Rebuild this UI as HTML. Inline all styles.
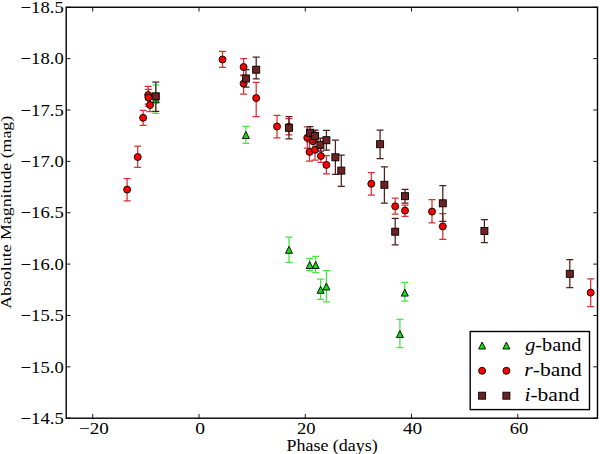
<!DOCTYPE html>
<html><head><meta charset="utf-8"><style>
html,body{margin:0;padding:0;background:#fff;}
body{width:600px;height:454px;overflow:hidden;}
svg{display:block;}
text{font-family:"Liberation Serif",serif;fill:#000;}
</style></head><body>
<svg width="600" height="454" viewBox="0 0 600 454">
<rect x="0" y="0" width="600" height="454" fill="#fff"/>
<g>
<path d="M155.8 84.9V113.3M152.3 84.9H159.3M152.3 113.3H159.3" stroke="#44e644" stroke-width="1.25" fill="none"/>
<path d="M245.9 126.3V143.4M242.4 126.3H249.4M242.4 143.4H249.4" stroke="#44e644" stroke-width="1.25" fill="none"/>
<path d="M289 237.2V262.4M285.5 237.2H292.5M285.5 262.4H292.5" stroke="#44e644" stroke-width="1.25" fill="none"/>
<path d="M309.7 258.4V270.5M306.2 258.4H313.2M306.2 270.5H313.2" stroke="#44e644" stroke-width="1.25" fill="none"/>
<path d="M315.7 256.4V272.6M312.2 256.4H319.2M312.2 272.6H319.2" stroke="#44e644" stroke-width="1.25" fill="none"/>
<path d="M320.6 279.1V299.4M317.1 279.1H324.1M317.1 299.4H324.1" stroke="#44e644" stroke-width="1.25" fill="none"/>
<path d="M326.4 270.5V301.9M322.9 270.5H329.9M322.9 301.9H329.9" stroke="#44e644" stroke-width="1.25" fill="none"/>
<path d="M404.8 282.4V301.1M401.3 282.4H408.3M401.3 301.1H408.3" stroke="#44e644" stroke-width="1.25" fill="none"/>
<path d="M399.9 319.3V347.7M396.4 319.3H403.4M396.4 347.7H403.4" stroke="#44e644" stroke-width="1.25" fill="none"/>
<path d="M155.8 95.9L152.3 102.9L159.3 102.9Z" fill="#10dd10" stroke="#000" stroke-width="0.9" stroke-linejoin="miter"/>
<path d="M245.9 131.5L242.4 138.5L249.4 138.5Z" fill="#10dd10" stroke="#000" stroke-width="0.9" stroke-linejoin="miter"/>
<path d="M289 246.3L285.5 253.3L292.5 253.3Z" fill="#10dd10" stroke="#000" stroke-width="0.9" stroke-linejoin="miter"/>
<path d="M309.7 261.5L306.2 268.5L313.2 268.5Z" fill="#10dd10" stroke="#000" stroke-width="0.9" stroke-linejoin="miter"/>
<path d="M315.7 261.5L312.2 268.5L319.2 268.5Z" fill="#10dd10" stroke="#000" stroke-width="0.9" stroke-linejoin="miter"/>
<path d="M320.6 286.3L317.1 293.3L324.1 293.3Z" fill="#10dd10" stroke="#000" stroke-width="0.9" stroke-linejoin="miter"/>
<path d="M326.4 283L322.9 290L329.9 290Z" fill="#10dd10" stroke="#000" stroke-width="0.9" stroke-linejoin="miter"/>
<path d="M404.8 289.1L401.3 296.1L408.3 296.1Z" fill="#10dd10" stroke="#000" stroke-width="0.9" stroke-linejoin="miter"/>
<path d="M399.9 330.5L396.4 337.5L403.4 337.5Z" fill="#10dd10" stroke="#000" stroke-width="0.9" stroke-linejoin="miter"/>
<path d="M127.1 178.5V200.8M123.6 178.5H130.6M123.6 200.8H130.6" stroke="#d83030" stroke-width="1.25" fill="none"/>
<path d="M137.7 146.2V167.4M134.2 146.2H141.2M134.2 167.4H141.2" stroke="#d83030" stroke-width="1.25" fill="none"/>
<path d="M143.1 110.3V125.4M139.6 110.3H146.6M139.6 125.4H146.6" stroke="#d83030" stroke-width="1.25" fill="none"/>
<path d="M148.2 86.4V104M144.7 86.4H151.7M144.7 104H151.7" stroke="#d83030" stroke-width="1.25" fill="none"/>
<path d="M148.4 89.3V106M144.9 89.3H151.9M144.9 106H151.9" stroke="#d83030" stroke-width="1.25" fill="none"/>
<path d="M150 98V111.5M146.5 98H153.5M146.5 111.5H153.5" stroke="#d83030" stroke-width="1.25" fill="none"/>
<path d="M222.5 51.4V67.4M219 51.4H226M219 67.4H226" stroke="#d83030" stroke-width="1.25" fill="none"/>
<path d="M243.6 58.5V75.5M240.1 58.5H247.1M240.1 75.5H247.1" stroke="#d83030" stroke-width="1.25" fill="none"/>
<path d="M243.6 75V94.2M240.1 75H247.1M240.1 94.2H247.1" stroke="#d83030" stroke-width="1.25" fill="none"/>
<path d="M256.2 82.4V116.6M252.7 82.4H259.7M252.7 116.6H259.7" stroke="#d83030" stroke-width="1.25" fill="none"/>
<path d="M277 115.4V137.8M273.5 115.4H280.5M273.5 137.8H280.5" stroke="#d83030" stroke-width="1.25" fill="none"/>
<path d="M288.9 118.6V134.8M285.4 118.6H292.4M285.4 134.8H292.4" stroke="#d83030" stroke-width="1.25" fill="none"/>
<path d="M307.3 126.9V148M303.8 126.9H310.8M303.8 148H310.8" stroke="#d83030" stroke-width="1.25" fill="none"/>
<path d="M313 131V151M309.5 131H316.5M309.5 151H316.5" stroke="#d83030" stroke-width="1.25" fill="none"/>
<path d="M309.5 142V161.2M306 142H313M306 161.2H313" stroke="#d83030" stroke-width="1.25" fill="none"/>
<path d="M315 140V160.1M311.5 140H318.5M311.5 160.1H318.5" stroke="#d83030" stroke-width="1.25" fill="none"/>
<path d="M320.9 148V162.4M317.4 148H324.4M317.4 162.4H324.4" stroke="#d83030" stroke-width="1.25" fill="none"/>
<path d="M326.4 155.6V173.9M322.9 155.6H329.9M322.9 173.9H329.9" stroke="#d83030" stroke-width="1.25" fill="none"/>
<path d="M371.3 172.5V195M367.8 172.5H374.8M367.8 195H374.8" stroke="#d83030" stroke-width="1.25" fill="none"/>
<path d="M395.2 198.2V214.2M391.7 198.2H398.7M391.7 214.2H398.7" stroke="#d83030" stroke-width="1.25" fill="none"/>
<path d="M405 205.1V216.4M401.5 205.1H408.5M401.5 216.4H408.5" stroke="#d83030" stroke-width="1.25" fill="none"/>
<path d="M432 199.7V222.9M428.5 199.7H435.5M428.5 222.9H435.5" stroke="#d83030" stroke-width="1.25" fill="none"/>
<path d="M442.8 213.7V239.4M439.3 213.7H446.3M439.3 239.4H446.3" stroke="#d83030" stroke-width="1.25" fill="none"/>
<path d="M590.7 278.9V306.6M587.2 278.9H594.2M587.2 306.6H594.2" stroke="#d83030" stroke-width="1.25" fill="none"/>
<circle cx="127.1" cy="189.6" r="3.5" fill="#ff0000" stroke="#000" stroke-width="0.9"/>
<circle cx="137.7" cy="157" r="3.5" fill="#ff0000" stroke="#000" stroke-width="0.9"/>
<circle cx="143.1" cy="117.8" r="3.5" fill="#ff0000" stroke="#000" stroke-width="0.9"/>
<circle cx="148.2" cy="95" r="3.5" fill="#ff0000" stroke="#000" stroke-width="0.9"/>
<circle cx="148.4" cy="97.5" r="3.5" fill="#ff0000" stroke="#000" stroke-width="0.9"/>
<circle cx="150" cy="105" r="3.5" fill="#ff0000" stroke="#000" stroke-width="0.9"/>
<circle cx="222.5" cy="59.5" r="3.5" fill="#ff0000" stroke="#000" stroke-width="0.9"/>
<circle cx="243.6" cy="67" r="3.5" fill="#ff0000" stroke="#000" stroke-width="0.9"/>
<circle cx="243.6" cy="83.6" r="3.5" fill="#ff0000" stroke="#000" stroke-width="0.9"/>
<circle cx="256.2" cy="98.1" r="3.5" fill="#ff0000" stroke="#000" stroke-width="0.9"/>
<circle cx="277" cy="126.5" r="3.5" fill="#ff0000" stroke="#000" stroke-width="0.9"/>
<circle cx="288.9" cy="126.7" r="3.5" fill="#ff0000" stroke="#000" stroke-width="0.9"/>
<circle cx="307.3" cy="137.8" r="3.5" fill="#ff0000" stroke="#000" stroke-width="0.9"/>
<circle cx="313" cy="141.2" r="3.5" fill="#ff0000" stroke="#000" stroke-width="0.9"/>
<circle cx="309.5" cy="151.9" r="3.5" fill="#ff0000" stroke="#000" stroke-width="0.9"/>
<circle cx="315" cy="149.8" r="3.5" fill="#ff0000" stroke="#000" stroke-width="0.9"/>
<circle cx="320.9" cy="156" r="3.5" fill="#ff0000" stroke="#000" stroke-width="0.9"/>
<circle cx="326.4" cy="164.9" r="3.5" fill="#ff0000" stroke="#000" stroke-width="0.9"/>
<circle cx="371.3" cy="183.8" r="3.5" fill="#ff0000" stroke="#000" stroke-width="0.9"/>
<circle cx="395.2" cy="206.3" r="3.5" fill="#ff0000" stroke="#000" stroke-width="0.9"/>
<circle cx="405" cy="210.6" r="3.5" fill="#ff0000" stroke="#000" stroke-width="0.9"/>
<circle cx="432" cy="211.6" r="3.5" fill="#ff0000" stroke="#000" stroke-width="0.9"/>
<circle cx="442.8" cy="226.4" r="3.5" fill="#ff0000" stroke="#000" stroke-width="0.9"/>
<circle cx="590.7" cy="292.6" r="3.5" fill="#ff0000" stroke="#000" stroke-width="0.9"/>
<path d="M155.8 82.2V111.4M152.3 82.2H159.3M152.3 111.4H159.3" stroke="#4f1f1f" stroke-width="1.25" fill="none"/>
<path d="M246 69.7V87M242.5 69.7H249.5M242.5 87H249.5" stroke="#4f1f1f" stroke-width="1.25" fill="none"/>
<path d="M256.2 57.2V78.8M252.7 57.2H259.7M252.7 78.8H259.7" stroke="#4f1f1f" stroke-width="1.25" fill="none"/>
<path d="M289 116.6V138.8M285.5 116.6H292.5M285.5 138.8H292.5" stroke="#4f1f1f" stroke-width="1.25" fill="none"/>
<path d="M310 126.6V139.5M306.5 126.6H313.5M306.5 139.5H313.5" stroke="#4f1f1f" stroke-width="1.25" fill="none"/>
<path d="M315.1 130V142M311.6 130H318.6M311.6 142H318.6" stroke="#4f1f1f" stroke-width="1.25" fill="none"/>
<path d="M320.4 138V151M316.9 138H323.9M316.9 151H323.9" stroke="#4f1f1f" stroke-width="1.25" fill="none"/>
<path d="M326.4 130.3V150.1M322.9 130.3H329.9M322.9 150.1H329.9" stroke="#4f1f1f" stroke-width="1.25" fill="none"/>
<path d="M335.4 140V174.4M331.9 140H338.9M331.9 174.4H338.9" stroke="#4f1f1f" stroke-width="1.25" fill="none"/>
<path d="M341.3 155.2V186.4M337.8 155.2H344.8M337.8 186.4H344.8" stroke="#4f1f1f" stroke-width="1.25" fill="none"/>
<path d="M380.1 130V158.5M376.6 130H383.6M376.6 158.5H383.6" stroke="#4f1f1f" stroke-width="1.25" fill="none"/>
<path d="M384.4 166.9V203M380.9 166.9H387.9M380.9 203H387.9" stroke="#4f1f1f" stroke-width="1.25" fill="none"/>
<path d="M405 189.3V203.2M401.5 189.3H408.5M401.5 203.2H408.5" stroke="#4f1f1f" stroke-width="1.25" fill="none"/>
<path d="M395.2 218.4V244.8M391.7 218.4H398.7M391.7 244.8H398.7" stroke="#4f1f1f" stroke-width="1.25" fill="none"/>
<path d="M442.8 185.7V221.4M439.3 185.7H446.3M439.3 221.4H446.3" stroke="#4f1f1f" stroke-width="1.25" fill="none"/>
<path d="M484.4 219.5V242.5M480.9 219.5H487.9M480.9 242.5H487.9" stroke="#4f1f1f" stroke-width="1.25" fill="none"/>
<path d="M569.8 259.5V287.7M566.3 259.5H573.3M566.3 287.7H573.3" stroke="#4f1f1f" stroke-width="1.25" fill="none"/>
<rect x="152.3" y="92.8" width="7" height="7" fill="#6e2222" stroke="#000" stroke-width="0.9"/>
<rect x="242.5" y="75" width="7" height="7" fill="#6e2222" stroke="#000" stroke-width="0.9"/>
<rect x="252.7" y="66.2" width="7" height="7" fill="#6e2222" stroke="#000" stroke-width="0.9"/>
<rect x="285.5" y="124.3" width="7" height="7" fill="#6e2222" stroke="#000" stroke-width="0.9"/>
<rect x="306.5" y="129.2" width="7" height="7" fill="#6e2222" stroke="#000" stroke-width="0.9"/>
<rect x="311.6" y="132.4" width="7" height="7" fill="#6e2222" stroke="#000" stroke-width="0.9"/>
<rect x="316.9" y="141.3" width="7" height="7" fill="#6e2222" stroke="#000" stroke-width="0.9"/>
<rect x="322.9" y="136.7" width="7" height="7" fill="#6e2222" stroke="#000" stroke-width="0.9"/>
<rect x="331.9" y="153.8" width="7" height="7" fill="#6e2222" stroke="#000" stroke-width="0.9"/>
<rect x="337.8" y="167.1" width="7" height="7" fill="#6e2222" stroke="#000" stroke-width="0.9"/>
<rect x="376.6" y="140.7" width="7" height="7" fill="#6e2222" stroke="#000" stroke-width="0.9"/>
<rect x="380.9" y="181.3" width="7" height="7" fill="#6e2222" stroke="#000" stroke-width="0.9"/>
<rect x="401.5" y="192.7" width="7" height="7" fill="#6e2222" stroke="#000" stroke-width="0.9"/>
<rect x="391.7" y="228.2" width="7" height="7" fill="#6e2222" stroke="#000" stroke-width="0.9"/>
<rect x="439.3" y="199.8" width="7" height="7" fill="#6e2222" stroke="#000" stroke-width="0.9"/>
<rect x="480.9" y="227.5" width="7" height="7" fill="#6e2222" stroke="#000" stroke-width="0.9"/>
<rect x="566.3" y="270.3" width="7" height="7" fill="#6e2222" stroke="#000" stroke-width="0.9"/>
</g>
<path d="M92.73 418.2V413.9M92.73 7.25V11.55M199 418.2V413.9M199 7.25V11.55M305.27 418.2V413.9M305.27 7.25V11.55M411.53 418.2V413.9M411.53 7.25V11.55M517.8 418.2V413.9M517.8 7.25V11.55M66.2 7.25H70.5M597.5 7.25H593.2M66.2 58.62H70.5M597.5 58.62H593.2M66.2 109.99H70.5M597.5 109.99H593.2M66.2 161.36H70.5M597.5 161.36H593.2M66.2 212.73H70.5M597.5 212.73H593.2M66.2 264.1H70.5M597.5 264.1H593.2M66.2 315.47H70.5M597.5 315.47H593.2M66.2 366.84H70.5M597.5 366.84H593.2M66.2 418.21H70.5M597.5 418.21H593.2" stroke="#000" stroke-width="0.9" fill="none"/>
<rect x="66.2" y="7.25" width="531.3" height="410.95" fill="none" stroke="#000" stroke-width="1.4"/>
<g>
<text transform="translate(20.57 12.95) scale(1.1296 1)" font-size="16.515">−18.5</text>
<text transform="translate(20.57 64.32) scale(1.1296 1)" font-size="16.515">−18.0</text>
<text transform="translate(20.57 115.69) scale(1.1296 1)" font-size="16.515">−17.5</text>
<text transform="translate(20.57 167.06) scale(1.1296 1)" font-size="16.515">−17.0</text>
<text transform="translate(20.57 218.43) scale(1.1296 1)" font-size="16.515">−16.5</text>
<text transform="translate(20.57 269.8) scale(1.1296 1)" font-size="16.515">−16.0</text>
<text transform="translate(20.57 321.17) scale(1.1296 1)" font-size="16.515">−15.5</text>
<text transform="translate(20.57 372.54) scale(1.1296 1)" font-size="16.515">−15.0</text>
<text transform="translate(20.57 423.91) scale(1.1296 1)" font-size="16.515">−14.5</text>
<text transform="translate(79.04 434) scale(1.1616 1)" font-size="16.462">−20</text>
<text transform="translate(195.26 434) scale(1.1400 1)" font-size="17.231">0</text>
<text transform="translate(296.96 434) scale(1.0787 1)" font-size="17.231">20</text>
<text transform="translate(402.91 434) scale(1.1546 1)" font-size="16.769">40</text>
<text transform="translate(509.66 434) scale(1.0787 1)" font-size="17.231">60</text>
<text transform="translate(286.46 450.75) scale(1.1424 1)" font-size="15.725">Phase (days)</text>
<text transform="translate(10.9 308.78) rotate(-90) scale(1.2187 1)" font-size="14.638">Absolute Magnitude (mag)</text>
</g>
<rect x="470.2" y="331.5" width="119.3" height="78.1" fill="#fff" stroke="#000" stroke-width="1.4"/>
<path d="M482.1 342L478.6 349L485.6 349Z" fill="#10dd10" stroke="#000" stroke-width="0.9" stroke-linejoin="miter"/>
<circle cx="482.1" cy="370.8" r="3.5" fill="#ff0000" stroke="#000" stroke-width="0.9"/>
<rect x="478.6" y="392.2" width="7" height="7" fill="#6e2222" stroke="#000" stroke-width="0.9"/>
<path d="M506.4 342L502.9 349L509.9 349Z" fill="#10dd10" stroke="#000" stroke-width="0.9" stroke-linejoin="miter"/>
<circle cx="506.4" cy="370.8" r="3.5" fill="#ff0000" stroke="#000" stroke-width="0.9"/>
<rect x="502.9" y="392.2" width="7" height="7" fill="#6e2222" stroke="#000" stroke-width="0.9"/><text transform="translate(525.2 350.9) scale(1.0852 1)" font-size="18.696"><tspan font-style="italic">g</tspan>-band</text>
<text transform="translate(524.34 376.1) scale(1.1607 1)" font-size="18.551"><tspan font-style="italic">r</tspan>-band</text>
<text transform="translate(524.41 401.4) scale(1.1517 1)" font-size="18.696"><tspan font-style="italic">i</tspan>-band</text>
</svg>
</body></html>
